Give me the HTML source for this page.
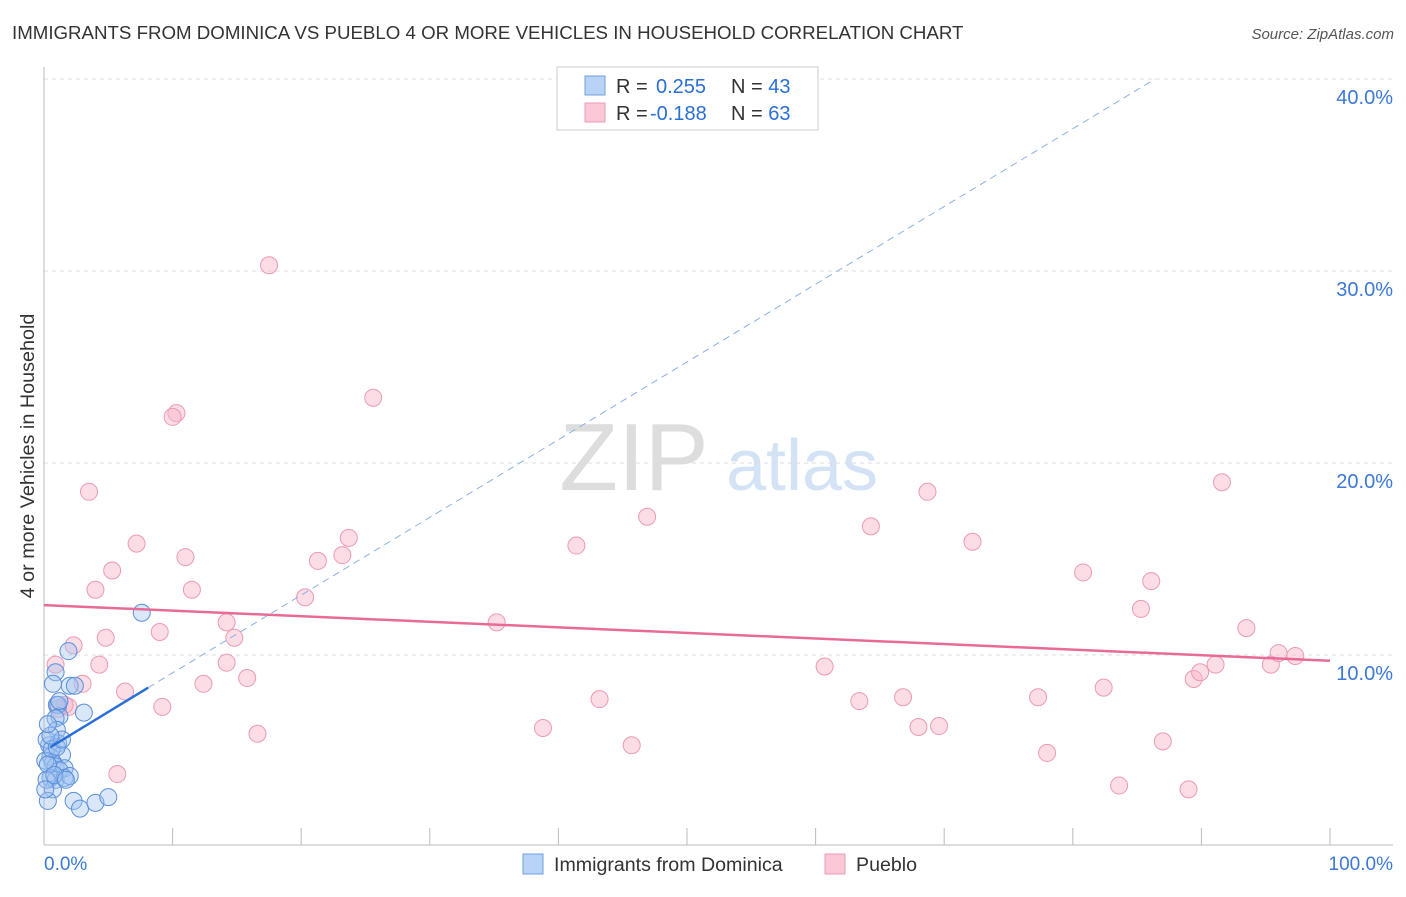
<!DOCTYPE html>
<html><head><meta charset="utf-8"><style>
body{margin:0;background:#fff;font-family:"Liberation Sans",sans-serif;}
svg text{font-family:"Liberation Sans",sans-serif;}
</style></head><body>
<svg id="chart" width="1406" height="892" xmlns="http://www.w3.org/2000/svg">
<text x="12" y="39" font-size="18.7" fill="#333">IMMIGRANTS FROM DOMINICA VS PUEBLO 4 OR MORE VEHICLES IN HOUSEHOLD CORRELATION CHART</text>
<text x="1394" y="39" font-size="15" fill="#555" font-style="italic" text-anchor="end">Source: ZipAtlas.com</text>
<g>
<text x="634" y="490" font-size="96" fill="#ddd" font-family="Liberation Serif,serif" text-anchor="middle">ZIP</text>
<text x="802" y="490" font-size="72" fill="#d3e3f5" text-anchor="middle">atlas</text>
</g>
<g id="grid"></g><g id="axes"></g><g id="pts"></g><g id="trend"></g>
<g>
<rect x="557" y="67" width="261" height="63" fill="#fff" stroke="#ccc"/>
<rect x="585" y="76" width="20" height="19" fill="#b8d3f5" stroke="#6fa0e0"/>
<rect x="585" y="103" width="20" height="19" fill="#fbc8d8" stroke="#ee9ab5"/>
<text x="616" y="93" font-size="20" fill="#333">R = <tspan fill="#2a6fd6" x="656">0.255</tspan><tspan fill="#333" x="731">N = </tspan><tspan fill="#2a6fd6">43</tspan></text>
<text x="616" y="120" font-size="20" fill="#333">R = <tspan fill="#2a6fd6" x="650">-0.188</tspan><tspan fill="#333" x="731">N = </tspan><tspan fill="#2a6fd6">63</tspan></text>
</g>
<text x="34" y="456" font-size="19.8" fill="#333" text-anchor="middle" transform="rotate(-90 34 456)">4 or more Vehicles in Household</text>
<g>
<rect x="523" y="854" width="20" height="20" fill="#b8d3f5" stroke="#6fa0e0"/>
<text x="554" y="871" font-size="19.6" fill="#333">Immigrants from Dominica</text>
<rect x="825" y="854" width="20" height="20" fill="#fbc8d8" stroke="#ee9ab5"/>
<text x="856" y="871" font-size="19.6" fill="#333">Pueblo</text>
</g>
</svg>
<script>
const yTicks=[10,20,30,40];
const yTickLabels=["10.0%","20.0%","30.0%","40.0%"];
const xTickLabels=["0.0%","100.0%"];
const blueX=[7.6,1.9,0.9,0.7,2.0,2.4,3.1,1.0,1.1,1.2,0.9,1.0,0.4,1.1,1.4,0.5,0.7,0.9,1.6,1.2,0.5,0.9,1.6,2.0,0.7,0.3,2.3,2.8,4.0,5.0,0.2,0.1,0.6,0.3,1.0,0.2,0.8,1.4,0.5,0.3,1.2,1.7,0.1];
const blueY=[12.2,10.2,9.1,8.5,8.4,8.4,7.0,7.4,7.4,6.8,6.7,6.1,5.3,5.4,4.8,4.7,4.4,4.2,4.1,4.0,3.6,3.5,3.6,3.7,3.0,2.4,2.4,2.0,2.3,2.6,5.6,4.5,5.1,4.3,5.2,3.5,3.75,5.6,5.8,6.4,7.6,3.5,3.0];
const pinkX=[17.5,25.6,10.3,10.0,3.5,7.2,11.0,5.3,4.0,11.5,9.0,4.8,2.3,4.3,0.9,3.0,6.3,1.9,9.2,12.4,14.2,14.8,14.2,15.8,16.6,5.7,20.3,21.3,23.2,23.7,35.2,41.4,46.9,38.8,43.2,45.7,60.7,63.4,64.3,66.8,68.0,69.6,68.7,72.2,77.3,78.0,80.8,82.4,83.6,85.3,86.1,87.0,89.0,89.4,89.9,91.1,91.6,93.5,95.4,96.0,97.3,1.1,1.6];
const pinkY=[30.3,23.4,22.6,22.4,18.5,15.8,15.1,14.4,13.4,13.4,11.2,10.9,10.5,9.5,9.5,8.5,8.1,7.3,7.3,8.5,9.6,10.9,11.7,8.8,5.9,3.8,13.0,14.9,15.2,16.1,11.7,15.7,17.2,6.2,7.7,5.3,9.4,7.6,16.7,7.8,6.25,6.3,18.5,15.9,7.8,4.9,14.3,8.3,3.2,12.4,13.85,5.5,3.0,8.75,9.1,9.5,19.0,11.4,9.5,10.1,9.95,7.2,7.4];
const blueTrend=[0.5,5.2,8.1,8.3];
const blueTrendEnd=[86.4,40.0];
const pinkTrend=[0,12.6,100,9.7];
const NS="http://www.w3.org/2000/svg";
const sx=v=>44+v*12.86, sy=v=>847-v*19.2;
function mk(p,t,a){const e=document.createElementNS(NS,t);for(const k in a)e.setAttribute(k,a[k]);p.appendChild(e);return e;}
const grid=document.getElementById('grid'),axes=document.getElementById('axes'),pts=document.getElementById('pts'),tr=document.getElementById('trend');
yTicks.forEach((t,i)=>{
 const l=mk(grid,'line',{x1:44,x2:1393,y1:sy(t),y2:sy(t),stroke:'#ddd','stroke-dasharray':'4,4'});
 
 
 const tx=mk(axes,'text',{x:1393,y:sy(t)+25,'font-size':20,fill:'#3b78d8','text-anchor':'end'});
 tx.textContent=yTickLabels[i];
 
 
});
const ax=mk(axes,'line',{x1:44,x2:44,y1:67,y2:845,stroke:'#bbb'});


const bx=mk(axes,'line',{x1:44,x2:1393,y1:845,y2:845,stroke:'#bbb'});


for(let i=1;i<=10;i++){
 const t=mk(axes,'line',{x1:sx(i*10),x2:sx(i*10),y1:828,y2:845,stroke:'#bbb'});
 
 
}
[[0,'start',44],[100,'end',1393]].forEach((d,i)=>{
 const t=mk(axes,'text',{x:d[2],y:870,'font-size':19,fill:'#3b78d8','text-anchor':d[1]});
 t.textContent=xTickLabels[i];
 
 
});
pinkX.forEach((x,i)=>{
 const c=mk(pts,'circle',{cx:sx(x),cy:sy(pinkY[i]),r:8.5,fill:'rgba(248,180,200,0.45)',stroke:'#ec9ab4','stroke-width':1});
 
 
});
blueX.forEach((x,i)=>{
 const c=mk(pts,'circle',{cx:sx(x),cy:sy(blueY[i]),r:8.5,fill:'rgba(160,195,240,0.4)',stroke:'#5a8fdc','stroke-width':1});
 
 
});
const pl=mk(tr,'line',{x1:sx(pinkTrend[0]),y1:sy(pinkTrend[1]),x2:sx(pinkTrend[2]),y2:sy(pinkTrend[3]),stroke:'#e86a97','stroke-width':2.5});


const bd=mk(tr,'line',{x1:sx(blueTrend[2]),y1:sy(blueTrend[3]),x2:sx(blueTrendEnd[0]),y2:sy(blueTrendEnd[1]),stroke:'#8ab0e6','stroke-width':1,'stroke-dasharray':'7,5'});


const bl=mk(tr,'line',{x1:sx(blueTrend[0]),y1:sy(blueTrend[1]),x2:sx(blueTrend[2]),y2:sy(blueTrend[3]),stroke:'#2a6fd6','stroke-width':2.5});


</script>
</body></html>
